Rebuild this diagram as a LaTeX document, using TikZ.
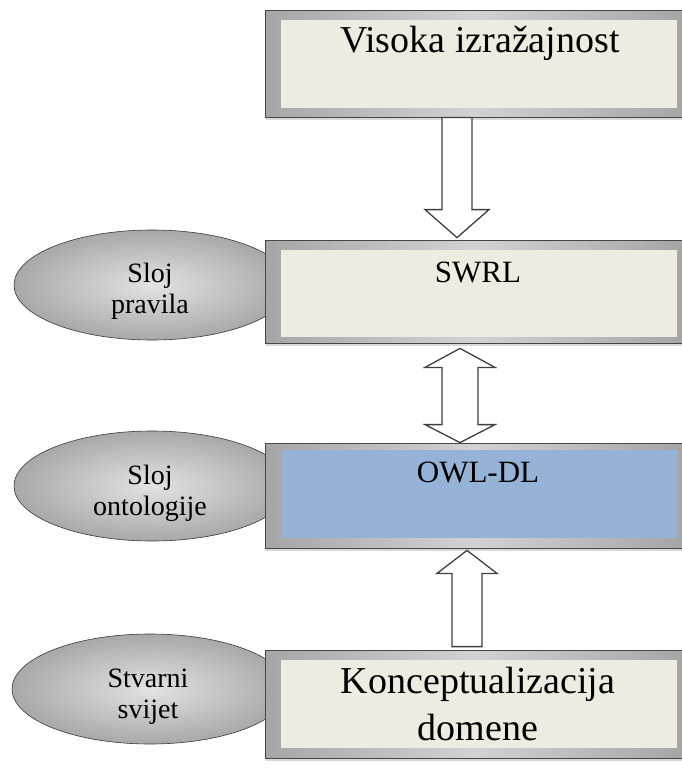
\documentclass[tikz,border=0pt]{standalone}
\usepackage{fontspec}
\setmainfont{Liberation Serif}
\usetikzlibrary{shapes.geometric,calc,shadows}
\definecolor{beige}{HTML}{EEECE1}
\definecolor{owlblue}{HTML}{95B3D7}
\begin{document}
\begin{tikzpicture}[x=1pt,y=-1pt,
  frame/.style={rectangle, draw=gray!55!black, line width=0.8pt,
    left color=gray!70, right color=gray!70, middle color=gray!35,
    minimum width=417pt, minimum height=#1, inner sep=0pt,
    drop shadow={opacity=0.3, shadow xshift=1pt, shadow yshift=-3pt}},
  inner/.style={rectangle, fill=#1, draw=none, minimum width=396pt,
    minimum height=88pt, inner sep=0pt},
  bigtext/.style={font=\fontsize{38}{46}\selectfont, anchor=base, text=black},
  midtext/.style={font=\fontsize{31}{37}\selectfont, anchor=base, text=black},
  layer/.style={ellipse, draw=gray!45!black, line width=0.6pt,
    inner color=gray!22, outer color=gray!68, minimum width=276pt,
    minimum height=110pt, inner sep=0pt},
  layertext/.style={align=center, inner sep=0pt,
    font=\fontsize{28}{31}\selectfont, text=black},
  blk/.style={draw=black!75, line width=1.3pt, fill=white, line join=miter}
]
\useasboundingbox (0,0) rectangle (682,771);

% layer ellipses (behind boxes)
\node[layer] (e1) at (152,285) {};
\node[layertext] (l1) at (150,291) {Sloj\\pravila};
\node[layer] (e2) at (152,486) {};
\node[layertext] (l2) at (150,493) {Sloj\\ontologije};
\node[layer] (e3) at (150,689) {};
\node[layertext] (l3) at (148,697) {Stvarni\\svijet};

% boxes
\node[frame=107pt] (b1) at (473.5,63.5) {};
\node[inner=beige] (i1) at (479,64) {};
\node[bigtext] (t1) at (480,52) {Visoka izražajnost};

\node[frame=103pt] (b2) at (473.5,291.5) {};
\node[inner=beige, minimum height=87pt] (i2) at (479,293.5) {};
\node[midtext] (t2) at (478,282) {SWRL};

\node[frame=105pt] (b3) at (473.5,495.5) {};
\node[inner=owlblue] (i3) at (479,494) {};
\node[midtext] (t3) at (478,482) {OWL-DL};

\node[frame=108pt] (b4) at (473.5,704) {};
\node[inner=beige] (i4) at (479,704) {};
\node[bigtext] (t4a) at (478,693) {Konceptualizacija};
\node[bigtext] (t4b) at (478,740) {domene};

% arrow b1 -> b2
\coordinate (c1) at ($(b1.south)+(-16.5,0)$);
\coordinate (d1) at (c1 |- b2.north);
\draw[blk] ($(c1)+(-15,0)$) -- ($(d1)+(-15,-30)$) -- ($(d1)+(-32,-30)$)
  -- ($(d1)+(0,-2)$) -- ($(d1)+(32,-30)$) -- ($(d1)+(15,-30)$)
  -- ($(c1)+(15,0)$) -- cycle;

% double arrow b2 <-> b3
\coordinate (c2) at ($(b2.south)+(-13.5,5)$);
\coordinate (d2) at (c2 |- b3.north);
\draw[blk] (c2) -- ($(c2)+(35,19)$) -- ($(c2)+(18,19)$) -- ($(d2)+(18,-18)$)
  -- ($(d2)+(35,-18)$) -- (d2) -- ($(d2)+(-35,-18)$) -- ($(d2)+(-18,-18)$)
  -- ($(c2)+(-18,19)$) -- ($(c2)+(-35,19)$) -- cycle;

% arrow b4 -> b3
\coordinate (c3) at ($(b3.south)+(-6.5,2)$);
\coordinate (d3) at ($(c3 |- b4.north)+(0,-3)$);
\draw[blk] (c3) -- ($(c3)+(30,23)$) -- ($(c3)+(15,23)$) -- ($(d3)+(15,0)$)
  -- ($(d3)+(-15,0)$) -- ($(c3)+(-15,23)$) -- ($(c3)+(-30,23)$) -- cycle;
\end{tikzpicture}
\end{document}
